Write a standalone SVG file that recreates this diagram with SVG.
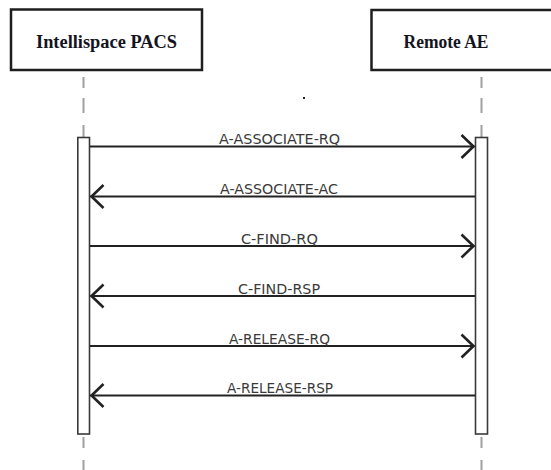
<svg xmlns="http://www.w3.org/2000/svg" width="551" height="470" viewBox="0 0 551 470">
  <style>
    .hdr { fill: #ffffff; stroke: #1e1e1e; stroke-width: 2.5; }
    .hdrtxt { font-family: "Liberation Serif", "Times New Roman", serif; font-weight: bold; font-size: 18px; fill: #14141e; }
    .life { stroke: #a0a0a0; stroke-width: 2; fill: none; }
    .bar { fill: #ffffff; stroke: #3a3a3a; stroke-width: 1.6; }
    .msg { stroke: #222222; stroke-width: 2; fill: none; marker-end: url(#chev); }
    .lbl { font-family: "DejaVu Sans", "Noto Sans", sans-serif; font-size: 14px; fill: #3a3a3a; text-anchor: middle; }
  </style>
  <defs>
    <marker id="chev" viewBox="-16 -15 20 30" markerWidth="20" markerHeight="30" refX="1" refY="0" markerUnits="userSpaceOnUse" orient="auto">
      <path d="M-12,-11.5 L0,0 L-12,11.5" fill="none" stroke="#222222" stroke-width="2.6" stroke-linejoin="miter"/>
    </marker>
  </defs>
  <rect width="551" height="470" fill="#ffffff"/>

  <g id="node-intellispace">
    <rect class="hdr" x="11" y="9.5" width="191" height="60.5"/>
    <text class="hdrtxt" x="36" y="48" textLength="141" lengthAdjust="spacingAndGlyphs">Intellispace PACS</text>
  </g>
  <g id="node-remote">
    <rect class="hdr" x="371.5" y="10" width="190" height="60"/>
    <text class="hdrtxt" x="403.5" y="48" textLength="85" lengthAdjust="spacingAndGlyphs">Remote AE</text>
  </g>

  <g id="lifeline-left">
    <path class="life" d="M83.5,77 V88 M83.5,98 V113 M83.5,125 V137 M83.5,437 V448 M83.5,460 V470"/>
    <rect class="bar" x="77.8" y="137.5" width="11.7" height="296.5"/>
  </g>
  <g id="lifeline-right">
    <path class="life" d="M481.5,77 V88 M481.5,98 V113 M481.5,125 V137 M481.5,437 V448 M481.5,460 V470"/>
    <rect class="bar" x="475.5" y="137.5" width="12" height="296.5"/>
  </g>

  <rect x="303" y="97" width="2" height="2" fill="#222222"/>

  <g id="connectors">
    <line class="msg" x1="90" y1="146.5" x2="474.5" y2="146.5"/>
    <line class="msg" x1="475" y1="196.5" x2="90.5" y2="196.5"/>
    <line class="msg" x1="90" y1="246" x2="474.5" y2="246"/>
    <line class="msg" x1="475" y1="296" x2="90.5" y2="296"/>
    <line class="msg" x1="90" y1="346" x2="474.5" y2="346"/>
    <line class="msg" x1="475" y1="395.5" x2="90.5" y2="395.5"/>
  </g>

  <g id="labels">
    <text class="lbl" x="279.6" y="144" textLength="121" lengthAdjust="spacingAndGlyphs">A-ASSOCIATE-RQ</text>
    <text class="lbl" x="279" y="194" textLength="118" lengthAdjust="spacingAndGlyphs">A-ASSOCIATE-AC</text>
    <text class="lbl" x="279.4" y="243.5" textLength="77" lengthAdjust="spacingAndGlyphs">C-FIND-RQ</text>
    <text class="lbl" x="279" y="293.5" textLength="82" lengthAdjust="spacingAndGlyphs">C-FIND-RSP</text>
    <text class="lbl" x="279.5" y="343.5" textLength="101" lengthAdjust="spacingAndGlyphs">A-RELEASE-RQ</text>
    <text class="lbl" x="280" y="393" textLength="106" lengthAdjust="spacingAndGlyphs">A-RELEASE-RSP</text>
  </g>
</svg>
